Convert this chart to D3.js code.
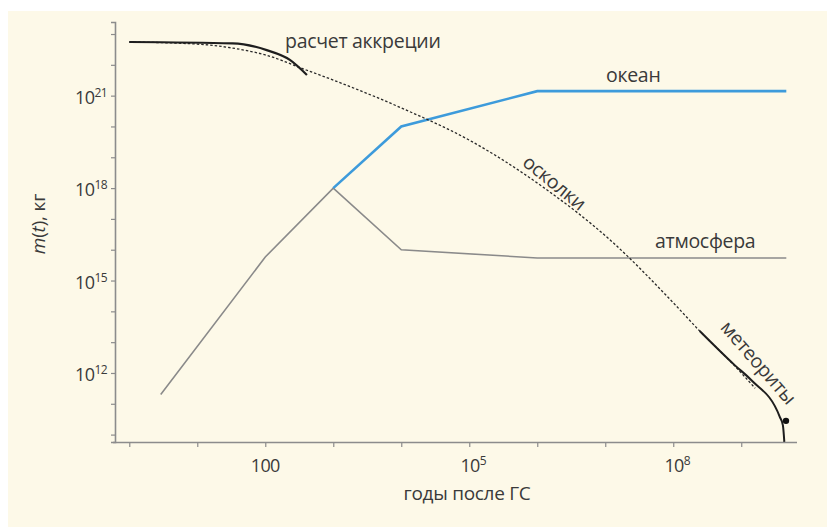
<!DOCTYPE html>
<html>
<head>
<meta charset="utf-8">
<script src="https://cdn.jsdelivr.net/npm/d3@7"></script>
<style>
  html, body { margin: 0; padding: 0; background: #ffffff; }
  svg { display: block; }
  text { font-family: "Open Sans", "Noto Sans", sans-serif; fill: #3a3a3a; }
</style>
</head>
<body>
<svg id="chart" width="827" height="527"></svg>
<script>
// ---- data (years after Solar System formation, mass in kg) ----
const debrisT = [1, 10, 33, 100, 400, 1000, 1e4, 1e5, 1.2e6, 1.2e7, 1e8, 2.45e8, 8e8, 1.6e9];
const debrisM = [5.5e22, 4.7e22, 3.5e22, 2.1e22, 6.8e21, 3.2e21, 4e20, 3.6e19, 1.1e18, 2e16, 1.9e14, 2.3e13, 1.7e12, 3.2e11];

const accretionT = [1, 33, 105, 230, 410];
const accretionM = [5.5e22, 4.95e22, 3.0e22, 1.45e22, 4.7e21];

const oceanT = [1000, 1e4, 1e6, 4.6e9];
const oceanM = [1e18, 1e20, 1.4e21, 1.4e21];

const atmosT = [2.9, 100, 1000, 1e4, 1e6, 4.6e9];
const atmosM = [2e11, 5.8e15, 1e18, 1e16, 5.4e15, 5.4e15];

const meteorT = [2.45e8, 8e8, 1.4e9, 3.7e9, 4.1e9, 4.3e9];
const meteorM = [2.3e13, 1.8e12, 5.9e11, 3.7e10, 2e10, 5.8e9];

const presentT = [4.55e9];
const presentM = [2.8e10];

const xTickValues = [1, 10, 100, 1e3, 1e4, 1e5, 1e6, 1e7, 1e8, 1e9];
const xTickLabels = [{v: 100, base: "100", exp: ""}, {v: 1e5, base: "10", exp: "5"}, {v: 1e8, base: "10", exp: "8"}];
const yTickValues = [1e10, 1e11, 1e12, 1e13, 1e14, 1e15, 1e16, 1e17, 1e18, 1e19, 1e20, 1e21, 1e22, 1e23];
const yTickLabels = [{v: 1e12, exp: "12"}, {v: 1e15, exp: "15"}, {v: 1e18, exp: "18"}, {v: 1e21, exp: "21"}];

const svg = d3.select("#chart");

// cream panel
svg.append("rect").attr("x", 8).attr("y", 11).attr("width", 819).attr("height", 516).attr("fill", "#fdf9e8");

const x = d3.scaleLog().domain([Math.pow(10, -0.21), Math.pow(10, 9.82)]).range([115, 797]);
const y = d3.scaleLog().domain([Math.pow(10, 9.76), Math.pow(10, 23.39)]).range([442, 22]);

const axisColor = "#8c8c8c";

// axes
const gx = svg.append("g").attr("transform", "translate(0,442)")
  .call(d3.axisBottom(x).tickValues(xTickValues).tickSize(5).tickFormat(""));
const gy = svg.append("g").attr("transform", "translate(115,0)")
  .call(d3.axisLeft(y).tickValues(yTickValues).tickSize(4).tickFormat(""));
[gx, gy].forEach(g => {
  g.selectAll("path.domain").attr("stroke", axisColor).attr("stroke-width", 1.6);
  g.selectAll(".tick line").attr("stroke", axisColor).attr("stroke-width", 1.2);
});
gx.select("path.domain").attr("d", "M113,0.5H797");

// tick labels
xTickLabels.forEach(t => {
  const tx = svg.append("text").attr("x", x(t.v) + (t.exp ? 4 : 0)).attr("y", 472)
    .attr("text-anchor", "middle").attr("font-size", 18).style("letter-spacing", "-0.6px");
  tx.append("tspan").text(t.base);
  if (t.exp) tx.append("tspan").attr("font-size", 12).attr("dy", -7).text(t.exp);
});
yTickLabels.forEach(t => {
  const tx = svg.append("text").attr("x", 107).attr("y", y(t.v) + 8)
    .attr("text-anchor", "end").attr("font-size", 18).style("letter-spacing", "-0.6px");
  tx.append("tspan").text("10");
  tx.append("tspan").attr("font-size", 12).attr("dy", -7).text(t.exp);
});

// axis titles
svg.append("text").attr("x", 467).attr("y", 500).attr("text-anchor", "middle")
  .attr("font-size", 19).style("letter-spacing", "-0.3px").text("годы после ГС");
const yl = svg.append("text").attr("transform", "translate(45,224) rotate(-90)")
  .attr("text-anchor", "middle").attr("font-size", 19).style("letter-spacing", "-0.2px");
yl.append("tspan").attr("font-style", "italic").text("m");
yl.append("tspan").text("(");
yl.append("tspan").attr("font-style", "italic").text("t");
yl.append("tspan").text("), кг");

// lines
const line = d3.line().x(d => x(d[0])).y(d => y(d[1]));
const curve = d3.line().x(d => x(d[0])).y(d => y(d[1])).curve(d3.curveMonotoneX);
const zipP = (a, b) => a.map((v, i) => [v, b[i]]);

svg.append("path").datum(zipP(atmosT, atmosM)).attr("d", line)
  .attr("fill", "none").attr("stroke", "#8a8a8a").attr("stroke-width", 1.6);
svg.append("path").datum(zipP(oceanT, oceanM)).attr("d", line)
  .attr("fill", "none").attr("stroke", "#3d9bdb").attr("stroke-width", 2.6);
svg.append("path").datum(zipP(debrisT, debrisM)).attr("d", curve)
  .attr("fill", "none").attr("stroke", "#2a2a2a").attr("stroke-width", 1.3)
  .attr("stroke-dasharray", "2.5,2");
svg.append("path").datum(zipP(accretionT, accretionM)).attr("d", curve)
  .attr("fill", "none").attr("stroke", "#1e1e1e").attr("stroke-width", 2.2);
svg.append("path").datum(zipP(meteorT, meteorM)).attr("d", curve)
  .attr("fill", "none").attr("stroke", "#1e1e1e").attr("stroke-width", 2);
svg.selectAll("circle.present").data(zipP(presentT, presentM)).enter().append("circle")
  .attr("class", "present").attr("cx", d => x(d[0])).attr("cy", d => y(d[1])).attr("r", 3.2).attr("fill", "#111");

// series labels
const lab = {size: 19.5, ls: "-0.3px"};
svg.append("text").attr("x", 285).attr("y", 48).attr("font-size", lab.size).style("letter-spacing", lab.ls).text("расчет аккреции");
svg.append("text").attr("x", 606).attr("y", 82).attr("font-size", lab.size).style("letter-spacing", lab.ls).text("океан");
svg.append("text").attr("x", 655).attr("y", 248).attr("font-size", lab.size).style("letter-spacing", lab.ls).text("атмосфера");
svg.append("text").attr("transform", "translate(555,182) rotate(39)").attr("text-anchor", "middle")
  .attr("dominant-baseline", "central").attr("font-size", lab.size).style("letter-spacing", lab.ls).text("осколки");
svg.append("text").attr("transform", "translate(759,362) rotate(49)").attr("text-anchor", "middle")
  .attr("dominant-baseline", "central").attr("font-size", lab.size).style("letter-spacing", lab.ls).text("метеориты");
</script>
</body>
</html>
